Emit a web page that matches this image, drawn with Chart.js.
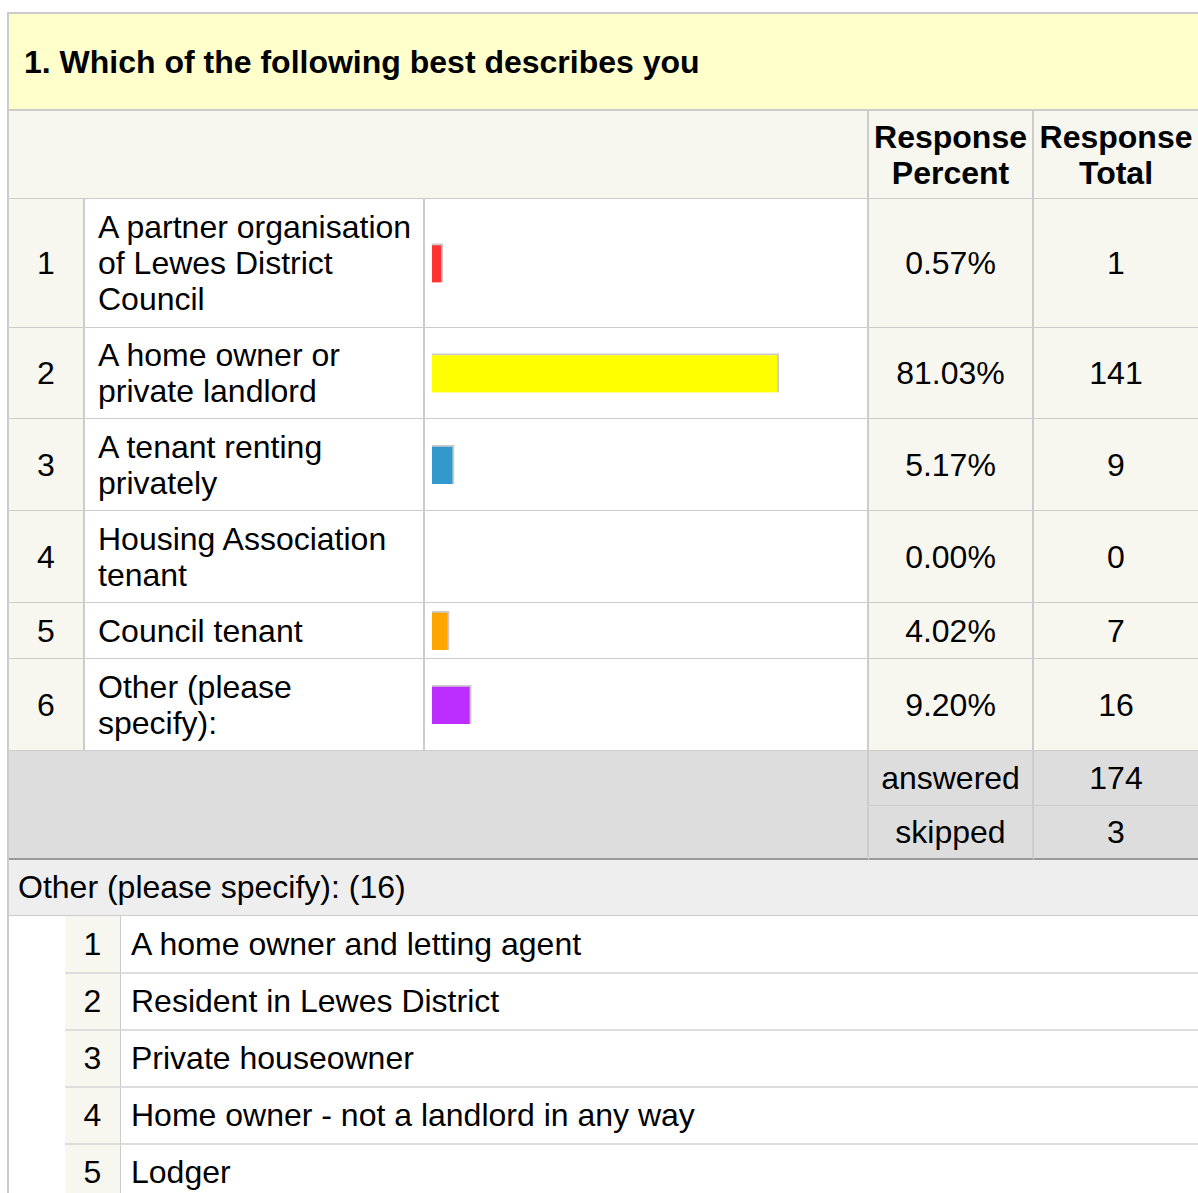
<!DOCTYPE html>
<html>
<head>
<meta charset="utf-8">
<script src="https://cdn.jsdelivr.net/npm/chart.js@4.4.1/dist/chart.umd.min.js"></script>
<style>
  body { margin: 0; background: #fff; font-family: Arial, "Liberation Sans", sans-serif; color: #000; overflow: hidden; }
  #wrap { position: absolute; left: 7px; top: 12px; width: 1193px; border-left: 2px solid #ccc; border-top: 2px solid #ccc; }
  .grid { display: grid; grid-template-columns: 76px 340px 444px 165px 166px; }
  .grid > div { box-sizing: border-box; display: flex; align-items: center; font-size: 32px; line-height: 36px; }
  .title { grid-column: 1 / 6; height: 97px; background: #ffffcc; border-bottom: 2px solid #ccc; padding-left: 15px; font-weight: bold; }
  .head { height: 88px; background: #f7f7f0; border-bottom: 1px solid #ccc; }
  .head.blank { grid-column: 1 / 4; border-right: 2px solid #ccc; }
  .head.col { font-weight: bold; justify-content: center; text-align: center; border-right: 2px solid #ccc; }
  .num { background: #f7f7f0; justify-content: center; border-right: 2px solid #ccc; border-bottom: 1px solid #ccc; }
  .lab { background: #fff; padding: 0 6px 0 13px; border-right: 2px solid #ccc; border-bottom: 1px solid #ccc; }
  .bar { background: #fff; position: relative; border-right: 2px solid #ccc; border-bottom: 1px solid #ccc; }
  .bar canvas { position: absolute; left: 7px; top: 0; }
  .val { background: #f7f7f0; justify-content: center; border-right: 2px solid #ccc; border-bottom: 1px solid #ccc; }
  .sum { background: #dddddd; }
  .sum.blank { grid-column: 1 / 4; border-right: 2px solid #ccc; }
  .sum.cell { justify-content: center; border-right: 2px solid #ccc; border-bottom: 1px solid #ccc; }
  .sum.last { border-bottom: 2px solid #999; }
  .other { height: 56px; background: #eeeeee; border-bottom: 1px solid #ccc; font-size: 32px; display: flex; align-items: center; padding-left: 9px; box-sizing: border-box; }
  .items { display: grid; grid-template-columns: 56px 56px 1079px; }
  .items > div { box-sizing: border-box; display: flex; align-items: center; font-size: 32px; height: 57px; }
  .items .gap { background: #fff; }
  .items .inum { background: #f7f7f0; justify-content: center; border-right: 1px solid #ccc; border-bottom: 2px solid #ddd; }
  .items .itxt { padding-left: 10px; border-bottom: 2px solid #ddd; }
</style>
</head>
<body>
<div id="wrap">
  <div class="grid" id="main"></div>
  <div class="other" id="otherHead"></div>
  <div class="items" id="items"></div>
</div>
<script>
const question = "1. Which of the following best describes you";
const categories = [
  "A partner organisation of Lewes District Council",
  "A home owner or private landlord",
  "A tenant renting privately",
  "Housing Association tenant",
  "Council tenant",
  "Other (please specify):"
];
const percents = [0.57, 81.03, 5.17, 0.00, 4.02, 9.20];
const totals = [1, 141, 9, 0, 7, 16];
const answered = 174;
const skipped = 3;
const otherResponses = [
  "A home owner and letting agent",
  "Resident in Lewes District",
  "Private houseowner",
  "Home owner - not a landlord in any way",
  "Lodger"
];

// styling
const barColors = ["#ff3333", "#ffff00", "#3399cc", "#9966cc", "#ffa500", "#bb2eff"];
const rowHeights = [129, 91, 92, 92, 56, 92];

const main = document.getElementById("main");
function cell(cls, html, h) {
  const d = document.createElement("div");
  d.className = cls;
  d.innerHTML = html;
  if (h) d.style.height = h + "px";
  main.appendChild(d);
  return d;
}

cell("title", question);
cell("head blank", "");
cell("head col", "Response<br>Percent");
cell("head col", "Response<br>Total");

categories.forEach((c, i) => {
  const h = rowHeights[i];
  cell("num", String(i + 1), h);
  cell("lab", c, h);
  const b = cell("bar", "", h);
  cell("val", percents[i].toFixed(2) + "%", h);
  cell("val", String(totals[i]), h);

  const cv = document.createElement("canvas");
  cv.width = 428;
  cv.height = h - 1;
  b.appendChild(cv);
  new Chart(cv.getContext("2d"), {
    type: "bar",
    data: {
      labels: [c],
      datasets: [{
        data: [percents[i]],
        backgroundColor: barColors[i],
        borderColor: "#cccccc",
        borderWidth: { top: 2, right: 2, bottom: 0, left: 0 },
        borderSkipped: false,
        barThickness: 39,
        minBarLength: percents[i] > 0 ? 11 : 0
      }]
    },
    options: {
      indexAxis: "y",
      responsive: false,
      animation: false,
      layout: { padding: 0 },
      plugins: { legend: { display: false }, tooltip: { enabled: false } },
      scales: {
        x: { display: false, min: 0, max: 100 },
        y: { display: false }
      }
    }
  });
});

cell("sum blank", "", 109).style.gridRow = "span 2";
cell("sum cell", "answered", 55);
cell("sum cell", String(answered), 55);
cell("sum cell last", "skipped", 54);
cell("sum cell last", String(skipped), 54);
main.lastChild.previousSibling.previousSibling.previousSibling.previousSibling.style.borderBottom = "2px solid #999";

document.getElementById("otherHead").textContent = "Other (please specify): (" + totals[5] + ")";

const items = document.getElementById("items");
otherResponses.forEach((t, i) => {
  const g = document.createElement("div"); g.className = "gap";
  const n = document.createElement("div"); n.className = "inum"; n.textContent = i + 1;
  const x = document.createElement("div"); x.className = "itxt"; x.textContent = t;
  if (i === 0) { g.style.height = n.style.height = x.style.height = "58px"; }
  items.append(g, n, x);
});
</script>
</body>
</html>
